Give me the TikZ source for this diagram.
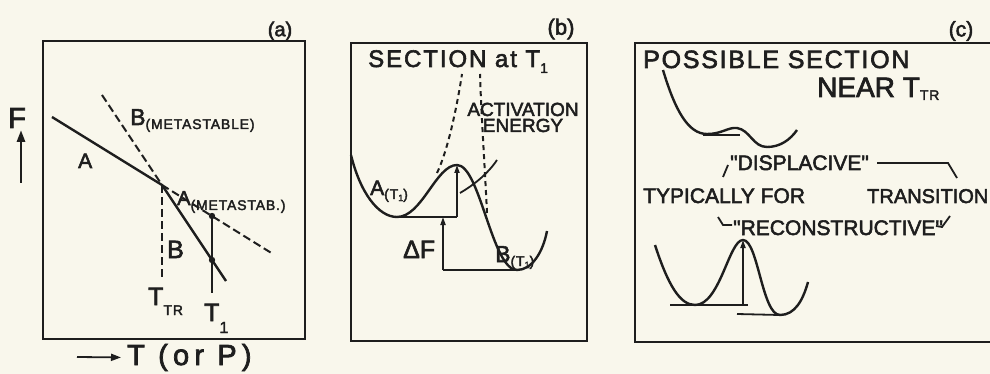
\documentclass[tikz,border=0pt]{standalone}
\usepackage{fontspec}
\newfontfamily\leroy{Liberation Sans}[FakeBold=2.5]
\usetikzlibrary{arrows.meta, calc}
\definecolor{paper}{RGB}{249,247,236}
\definecolor{ink}{RGB}{30,30,30}
\newcommand{\lsize}[1]{\fontsize{#1}{#1}\selectfont}
% lowered small text for subscripts: [size]{drop}{text}
\newcommand{\lowtxt}[3][14]{\raisebox{-#2}{\lsize{#1}\addfontfeature{LetterSpace=6}#3}}
\tikzset{
  % --- frames and curves ---
  panelbox/.style={draw=ink, line width=2.6pt},
  curve/.style={draw=ink, line width=2.4pt, line join=round},
  dashcurve/.style={draw=ink, line width=2pt, dash pattern=on 8pt off 4pt},
  dotcurve/.style={draw=ink, line width=2pt, dash pattern=on 5pt off 4pt},
  guide/.style={draw=ink, line width=1.8pt},
  upmark/.style={draw=ink, line width=1.8pt, -{Triangle[length=8pt, width=5pt]}},
  % --- lettering ---
  lbl/.style={inner sep=0pt, anchor=base west, text=ink, font=\leroy\lsize{21}},
  tag/.style={inner sep=0pt, text=ink, font=\leroy\lsize{20}},
}

\begin{document}
\begin{tikzpicture}[x=1pt, y=-1pt]
    \clip (0,0) rectangle (990,374);
    \fill[paper] (0,0) rectangle (990,374);
    % ---- Panel (a): F against T ----
    \draw[panelbox] (43,41) rectangle (305,339);
    \node[tag] (taga) at (280,31) {(a)};
    \node[lbl, font=\leroy\lsize{29}] (labF) at (8,128) {F};
    \coordinate (Flow) at (21,183);
    \coordinate (Fhigh) at (21,130);
    \draw[upmark, line width=2.8pt, -{Triangle[length=12pt, width=8pt]}] (Flow) -- (Fhigh);
    \coordinate (Astart) at (52,117);
    \coordinate (cross) at (162,185);
    \coordinate (Aend) at (273,254);
    \coordinate (Bstart) at (102,95);
    \coordinate (Bend) at (226,281);
    \coordinate (Ttr) at (162,278);
    \coordinate (onA) at (212,216);
    \coordinate (onB) at (212,260);
    \coordinate (Tone) at (212,293);
    \draw[curve] (Astart) -- (cross) -- (Bend);
    \draw[dashcurve] (Bstart) -- (cross) -- (Aend);
    \draw[dashcurve] (cross) -- (Ttr);
    \draw[guide] (onA) -- (Tone);
    \fill[ink] (onA) circle (3.2) (onB) circle (3.2);
    \node[lbl] (labA) at (78,168) {A};
    \node[lbl, font=\leroy\lsize{23}] (labBmeta) at (130,125) {B\lowtxt{4pt}{(METASTABLE)}};
    \node[lbl, font=\leroy\lsize{20}] (labAmeta) at (177,205) {A\lowtxt{5pt}{(METASTAB.)}};
    \node[lbl, font=\leroy\lsize{25}] (labB) at (167,258) {B};
    \node[lbl, font=\leroy\lsize{25}] (labTtr) at (148,305) {T\lowtxt{10pt}{TR}};
    \node[lbl, font=\leroy\lsize{25}] (labTone) at (204,321) {T\lowtxt[16]{12pt}{1}};
    \coordinate (axL) at (77,357);
    \node[lbl, font=\leroy\lsize{29}\addfontfeature{LetterSpace=18}] (axisT) at (127,365) {T (or P)};
    \draw[draw=ink, line width=1.8pt, -{Triangle[length=10pt, width=7pt]}, shorten >=6pt]
      (axL) -- (axisT.west);
    % ---- Panel (b): section at T1 ----
    \draw[panelbox] (351,43) rectangle (587,341);
    \node[tag, font=\leroy\lsize{22}] (tagb) at (561,29) {(b)};
    \node[lbl, font=\leroy\lsize{24}\addfontfeature{LetterSpace=8}] (secb) at (368,67) {SECTION at T\lowtxt{6pt}{1}};
    \coordinate (wellAmin) at (397,217);
    \coordinate (hump) at (457,165);
    \coordinate (wellBmin) at (517,270);
    \draw[curve] (351,155) .. controls (360,192) and (378,217) .. (wellAmin)
      .. controls (422,217) and (436,165) .. (hump)
      .. controls (480,165) and (492,270) .. (wellBmin)
      .. controls (532,270) and (543,252) .. (547,231);
    \draw[dotcurve] (437,173) .. controls (449,148) and (458,100) .. (462,74);
    \draw[dotcurve] (487,213) .. controls (485,170) and (481,110) .. (480,74);
    \coordinate (stepA) at (457,217);
    \coordinate (stepB) at (443,270);
    \coordinate (stepAb) at (443,217);
    \draw[guide] (wellAmin) -- (stepA);
    \draw[guide] (stepB) -- (wellBmin);
    \draw[upmark] (stepA) -- (hump);
    \draw[upmark] (stepB) -- (stepAb);
    \node[lbl] (labAT) at (370,195) {A\lowtxt{4pt}{(T\lowtxt[9]{2pt}{1})}};
    \node[lbl, font=\leroy\lsize{25}] (labdF) at (403,258) {ΔF};
    \node[lbl, font=\leroy\lsize{23}] (labBT) at (495,262) {B\lowtxt{4pt}{(T\lowtxt[9]{2pt}{1})}};
    \node[inner sep=0pt, text=ink, align=center, font=\leroy\fontsize{19}{16}\selectfont,
      anchor=base] (actlbl) at (523,132) {ACTIVATION\\ENERGY};
    \coordinate (leadtip) at (460,193);
    \draw[guide] (497,160) .. controls (487,175) and (472,186) .. (leadtip);
    % ---- Panel (c): possible section near Ttr ----
    \draw[panelbox] (635,43) rectangle (1000,342);
    \node[tag, font=\leroy\lsize{21}] (tagc) at (961,31) {(c)};
    \node[lbl, font=\leroy\lsize{25}\addfontfeature{LetterSpace=7}] (secc) at (643,68) {POSSIBLE SECTION};
    \node[lbl, font=\leroy\lsize{28}] (nearc) at (817,97) {NEAR T\lowtxt{3pt}{TR}};
    % displacive: two shallow wells
    \draw[curve] (663,70) .. controls (675,110) and (688,134) .. (707,134)
      .. controls (722,134) and (728,127) .. (737,128)
      .. controls (750,130) and (753,147) .. (767,147)
      .. controls (780,147) and (790,140) .. (797,130);
    \coordinate (dispL) at (703,135);
    \coordinate (dispR) at (740,135);
    \draw[guide] (dispL) -- (dispR);
    \node[lbl] (displ) at (730,170) {"DISPLACIVE"};
    \node[lbl] (typfor) at (643,203) {TYPICALLY FOR};
    \node[lbl, font=\leroy\lsize{20}] (trans) at (867,203) {TRANSITION};
    \node[lbl] (recon) at (733,235) {"RECONSTRUCTIVE"};
    \draw[guide] (728,165) -- (723,177);
    \draw[guide] (877,163) -- (948,163) -- (957,178);
    \draw[guide] (718,217) -- (723,225) -- (732,225);
    \draw[guide] (936,226) -- (942,227) -- (950,216);
    % reconstructive: high barrier
    \coordinate (rwellL) at (695,305);
    \coordinate (rhump) at (743,240);
    \coordinate (rwellR) at (780,315);
    \draw[curve] (655,245) .. controls (668,285) and (680,305) .. (rwellL)
      .. controls (720,305) and (729,240) .. (rhump)
      .. controls (758,240) and (762,315) .. (rwellR)
      .. controls (795,315) and (803,300) .. (808,282);
    \coordinate (rstepL) at (670,305);
    \coordinate (rstepA) at (748,305);
    \coordinate (rstepB) at (737,314);
    \coordinate (rbase) at (743,305);
    \draw[guide] (rstepL) -- (rstepA);
    \draw[guide] (rstepB) -- (rwellR);
    \draw[upmark] (rbase) -- (rhump);
\end{tikzpicture}
\end{document}
